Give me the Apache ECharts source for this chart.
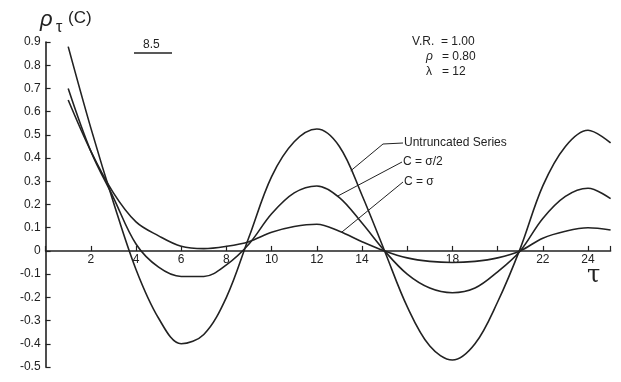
<!DOCTYPE html>
<html>
<head>
<meta charset="utf-8">
<script src="https://cdn.jsdelivr.net/npm/echarts@6/dist/echarts.min.js"></script>
<style>
  html, body { margin: 0; padding: 0; background: #fff; }
  #chart { width: 621px; height: 382px; }
</style>
</head>
<body>
<div id="chart"></div>
<script>
// Lag values (tau)
var taus = [1, 2, 3, 4, 5, 6, 7, 8, 9, 10, 11, 12, 13, 14, 15, 16, 17, 18, 19, 20, 21, 22, 23, 24, 25];

// Autocorrelation of the untruncated series
var untruncated = [0.88, 0.53, 0.21, -0.08, -0.29, -0.40, -0.36, -0.20, 0.06, 0.32, 0.47, 0.525, 0.45, 0.24, 0.0, -0.24, -0.41, -0.47, -0.40, -0.22, 0.01, 0.28, 0.45, 0.52, 0.465];
// Truncation level C = sigma/2
var halfSigma = [0.70, 0.43, 0.23, 0.03, -0.07, -0.11, -0.11, -0.06, 0.03, 0.16, 0.25, 0.28, 0.23, 0.12, 0.0, -0.10, -0.16, -0.18, -0.16, -0.09, 0.0, 0.14, 0.235, 0.27, 0.225];
// Truncation level C = sigma
var fullSigma = [0.65, 0.43, 0.25, 0.125, 0.065, 0.02, 0.01, 0.02, 0.04, 0.08, 0.105, 0.115, 0.085, 0.04, 0.0, -0.03, -0.045, -0.05, -0.045, -0.03, 0.0, 0.055, 0.085, 0.10, 0.09];

var seriesNames = ['Untruncated Series', 'C = \u03c3/2', 'C = \u03c3'];

// Labelled ticks on the lag axis
var xTickLabels = [2, 4, 6, 8, 10, 12, 14, 18, 22, 24];

var Y_MIN = -0.5, Y_MAX = 0.9;
var GRID = { left: 45.6, right: 10.4, top: 42, bottom: 15 };
var H = 382;

var INK = '#222';
var FONT = 'Liberation Sans';

function pairs(ys) {
  return taus.map(function (t, i) { return [t, ys[i]]; });
}

function lineSeries(name, ys) {
  return {
    name: name,
    type: 'line',
    data: pairs(ys),
    smooth: 0.35,
    showSymbol: false,
    lineStyle: { color: INK, width: 1.6 },
    z: 3
  };
}

// lift the lag axis (with its labels) up to the zero line
var plotH = H - GRID.top - GRID.bottom;
var zeroOffset = -plotH * (0 - Y_MIN) / (Y_MAX - Y_MIN);

var chart = echarts.init(document.getElementById('chart'), null, { renderer: 'canvas' });

chart.setOption({
  animation: false,
  backgroundColor: '#fff',
  grid: { left: GRID.left, right: GRID.right, top: GRID.top, bottom: GRID.bottom, containLabel: false },
  xAxis: {
    type: 'value',
    min: 0,
    max: 25,
    interval: 2,
    offset: zeroOffset,
    axisLine: { show: true, onZero: false, lineStyle: { color: INK, width: 1.6 } },
    axisTick: { show: true, inside: true, length: 5, lineStyle: { color: INK, width: 1.2 } },
    axisLabel: {
      color: INK, fontFamily: FONT, fontSize: 12, margin: 3,
      formatter: function (v) { return xTickLabels.indexOf(v) >= 0 ? String(v) : ''; }
    },
    splitLine: { show: false }
  },
  yAxis: {
    type: 'value',
    min: Y_MIN,
    max: Y_MAX,
    interval: 0.1,
    axisLine: { show: true, lineStyle: { color: INK, width: 1.6 } },
    axisTick: { show: true, inside: true, length: 5, lineStyle: { color: INK, width: 1.2 } },
    axisLabel: {
      color: INK, fontFamily: FONT, fontSize: 12, margin: 5,
      formatter: function (v) {
        var r = Math.round(v * 10) / 10;
        return r === 0 ? '0' : r.toFixed(1);
      }
    },
    splitLine: { show: false }
  },
  series: [
    lineSeries(seriesNames[0], untruncated),
    lineSeries(seriesNames[1], halfSigma),
    lineSeries(seriesNames[2], fullSigma)
  ]
});

// Linear lookup of a curve value at lag t, for anchoring the leader lines
function valueAt(ys, t) {
  for (var i = 0; i < taus.length - 1; i++) {
    if (t >= taus[i] && t <= taus[i + 1]) {
      var f = (t - taus[i]) / (taus[i + 1] - taus[i]);
      return ys[i] + f * (ys[i + 1] - ys[i]);
    }
  }
  return ys[ys.length - 1];
}

function px(t, ys) {
  return chart.convertToPixel({ gridIndex: 0 }, [t, valueAt(ys, t)]);
}

var aU = px(13.5, untruncated);
var aM = px(12.9, halfSigma);
var aS = px(13.1, fullSigma);

function txt(x, y, s, size, extra) {
  var style = { text: s, x: x, y: y, fill: INK, font: (extra || '') + ' ' + size + 'px "' + FONT + '"', textVerticalAlign: 'middle' };
  return { type: 'text', style: style, z: 10 };
}

var leaderStyle = { stroke: INK, lineWidth: 1, fill: null };

chart.setOption({
  graphic: [
    // vertical axis title: rho_tau(C)
    txt(40, 20, '\u03c1', 22, 'italic'),
    txt(56, 28, '\u03c4', 16, ''),
    txt(68, 18, '(C)', 17, ''),
    // horizontal axis title
    { type: 'text', style: { text: '\u03c4', x: 587, y: 276, fill: INK, font: '24px "DejaVu Serif"', textVerticalAlign: 'middle' }, z: 10 },
    // figure number
    txt(143, 45, '8.5', 12, ''),
    { type: 'line', shape: { x1: 134, y1: 53, x2: 172, y2: 53 }, style: { stroke: INK, lineWidth: 1.5 }, z: 10 },
    // parameters
    txt(412, 42, 'V.R.  = 1.00', 12, ''),
    txt(426, 57, '\u03c1', 12, 'italic'),
    txt(442, 57, '= 0.80', 12, ''),
    txt(426, 72, '\u03bb', 12, ''),
    txt(442, 72, '= 12', 12, ''),
    // curve labels with leaders
    { type: 'polyline', shape: { points: [aU, [383, 144], [403, 143]] }, style: leaderStyle, z: 10 },
    txt(404, 143, seriesNames[0], 12, ''),
    { type: 'polyline', shape: { points: [aM, [402, 162]] }, style: leaderStyle, z: 10 },
    txt(403, 162, seriesNames[1], 12, ''),
    { type: 'polyline', shape: { points: [aS, [403, 182]] }, style: leaderStyle, z: 10 },
    txt(404, 182, seriesNames[2], 12, '')
  ]
});
</script>
</body>
</html>
